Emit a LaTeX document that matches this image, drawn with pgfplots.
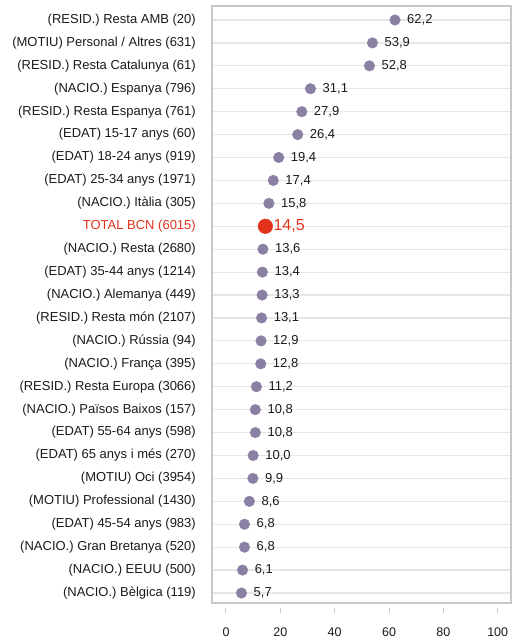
\documentclass[border=0pt]{standalone}
\usepackage{pgfplots}
\pgfplotsset{compat=1.18}
\usepackage{fontspec}
\setmainfont{Liberation Sans}
\definecolor{dotc}{HTML}{8B7FA3}
\definecolor{redc}{HTML}{E2321C}
\definecolor{gridc}{HTML}{E6E6E6}
\definecolor{framec}{HTML}{C8C8C8}
\definecolor{txt}{HTML}{1A1A1A}
\begin{document}
\begin{tikzpicture}
\begin{axis}[
  scale only axis, width=299pt, height=597pt,
  xmin=-5.15, xmax=104.9, ymin=-0.61, ymax=25.436, y dir=reverse,
  axis line style={draw=framec, line width=1.2pt},
  xtick={0,20,...,100}, ytick={0,...,25},
  yticklabels={
    {(RESID.) Resta AMB (20)},
    {(MOTIU) Personal / Altres (631)},
    {(RESID.) Resta Catalunya (61)},
    {(NACIO.) Espanya (796)},
    {(RESID.) Resta Espanya (761)},
    {(EDAT) 15-17 anys (60)},
    {(EDAT) 18-24 anys (919)},
    {(EDAT) 25-34 anys (1971)},
    {(NACIO.) Itàlia (305)},
    {\textcolor{redc}{TOTAL BCN (6015)}},
    {(NACIO.) Resta (2680)},
    {(EDAT) 35-44 anys (1214)},
    {(NACIO.) Alemanya (449)},
    {(RESID.) Resta món (2107)},
    {(NACIO.) Rússia (94)},
    {(NACIO.) França (395)},
    {(RESID.) Resta Europa (3066)},
    {(NACIO.) Països Baixos (157)},
    {(EDAT) 55-64 anys (598)},
    {(EDAT) 65 anys i més (270)},
    {(MOTIU) Oci (3954)},
    {(MOTIU) Professional (1430)},
    {(EDAT) 45-54 anys (983)},
    {(NACIO.) Gran Bretanya (520)},
    {(NACIO.) EEUU (500)},
    {(NACIO.) Bèlgica (119)}
  },
  ymajorgrids, grid style={draw=gridc, line width=1.2pt},
  ytick style={draw=none},
  xtick pos=bottom,
  tick align=inside,
  major tick length=5pt,
  xtick style={draw=framec, line width=1pt, yshift=-10pt},
  /pgf/number format/assume math mode=true,
  xticklabel style={font=\fontsize{12.5}{14}\selectfont, text=txt, yshift=-21pt},
  yticklabel style={font=\fontsize{13}{15}\selectfont, text=txt, inner sep=0pt, xshift=-16pt, anchor=east},
]
\addplot[only marks, color=dotc, mark=*, mark size=5.3pt, mark options={draw=dotc, fill=dotc, line width=0.4pt},
  nodes near coords={\pgfmathprintnumber[use comma,fixed,fixed zerofill,precision=1,assume math mode=true]{\pgfplotspointmeta}},
  point meta=x,
  every node near coord/.append style={anchor=west, inner sep=0pt, xshift=12pt, text=txt, font=\fontsize{13}{15}\selectfont}]
  table[row sep=\\] {
  x y\\
  62.2 0\\
  53.9 1\\
  52.8 2\\
  31.1 3\\
  27.9 4\\
  26.4 5\\
  19.4 6\\
  17.4 7\\
  15.8 8\\
  13.6 10\\
  13.4 11\\
  13.3 12\\
  13.1 13\\
  12.9 14\\
  12.8 15\\
  11.2 16\\
  10.8 17\\
  10.8 18\\
  10.0 19\\
  9.9 20\\
  8.6 21\\
  6.8 22\\
  6.8 23\\
  6.1 24\\
  5.7 25\\
  };
\addplot[only marks, color=redc, mark=*, mark size=7.3pt, mark options={draw=redc, fill=redc, line width=0.4pt},
  nodes near coords={\pgfmathprintnumber[use comma,fixed,fixed zerofill,precision=1,assume math mode=true]{\pgfplotspointmeta}},
  point meta=x,
  every node near coord/.append style={anchor=west, inner sep=0pt, xshift=8pt, text=redc, font=\fontsize{16}{18}\selectfont}]
  table[row sep=\\] {
  x y\\
  14.5 9\\
  };
\end{axis}
\pgfresetboundingbox
\path[use as bounding box] (-212pt,-37pt) rectangle (300pt,603pt);
\end{tikzpicture}
\end{document}
